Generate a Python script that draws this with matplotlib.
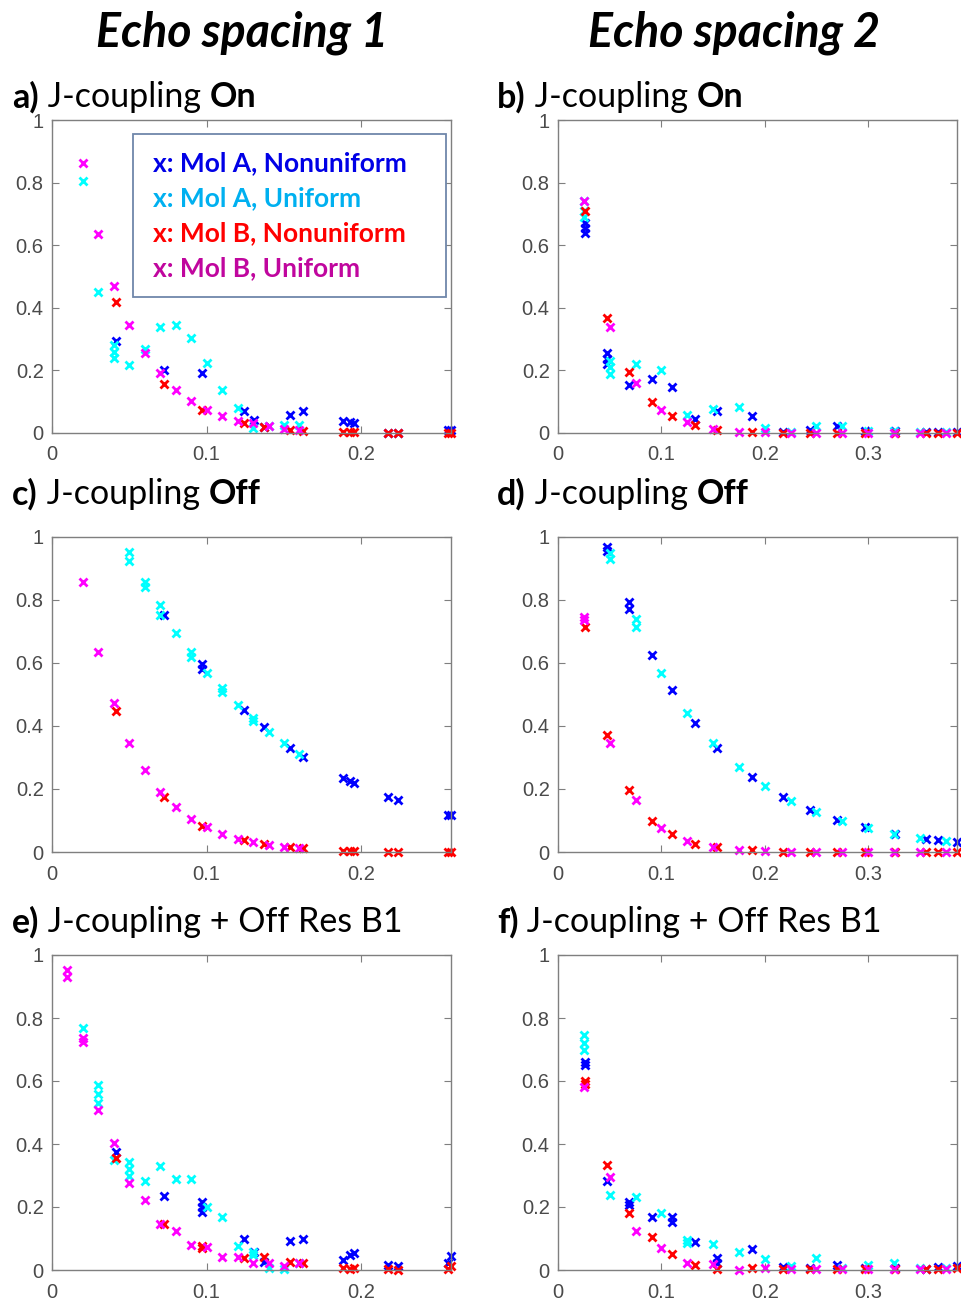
import numpy as np
import matplotlib
matplotlib.use('Agg')
import matplotlib.pyplot as plt
from matplotlib.patches import Rectangle

# x positions (echo times) of the sampling schemes
xn1 = [0.0415, 0.0725, 0.097, 0.124, 0.1305, 0.137, 0.154, 0.162, 0.188, 0.1925, 0.195, 0.217, 0.224, 0.256, 0.258]
xu1 = [0.01, 0.02, 0.03, 0.04, 0.05, 0.06, 0.07, 0.08, 0.09, 0.10, 0.11, 0.12, 0.13, 0.14, 0.15, 0.16]
xn2 = [0.026, 0.047, 0.069, 0.091, 0.110, 0.133, 0.154, 0.188, 0.218, 0.2435, 0.27, 0.297, 0.326, 0.356, 0.368, 0.386]
xu2 = [0.025, 0.05, 0.075, 0.1, 0.125, 0.15, 0.175, 0.2, 0.225, 0.25, 0.275, 0.3, 0.325, 0.35, 0.375]

# a) J-coupling On, echo spacing 1   (tuples = several repeats at one x)
a_blue = [0.293, 0.202, 0.191, 0.069, 0.043, 0.018, 0.059, 0.069, 0.039, 0.034, 0.032, 0.0, 0.0, 0.011, 0.011]
a_cyan = [None, 0.806, 0.452, (0.28, 0.26, 0.24), 0.218, 0.269, 0.338, 0.346, 0.302, 0.223, 0.138, 0.080, 0.016, 0.023, 0.027, 0.027]
a_red = [0.417, 0.156, 0.074, 0.032, None, 0.02, 0.0085, 0.005, 0.002, 0.002, 0.002, 0.0, 0.0, 0.0, 0.0]
a_mag = [None, 0.862, 0.635, 0.470, 0.346, 0.255, 0.191, 0.138, 0.103, 0.074, 0.055, 0.039, 0.032, 0.021, 0.013, 0.0085]

# b) J-coupling On, echo spacing 2
b_blue = [(0.67, 0.655, 0.64), (0.255, 0.235, 0.22), 0.154, 0.172, 0.146, 0.046, 0.071, 0.053, 0.002, 0.0085, 0.021, 0.005, 0.007, 0.002, 0.002, 0.002]
b_cyan = [(0.74, 0.71, 0.69), (0.23, 0.21, 0.19), 0.221, 0.202, 0.058, 0.077, 0.083, 0.016, 0.002, 0.021, 0.023, 0.005, 0.007, 0.002, 0.002]
b_red = [0.71, 0.368, 0.196, 0.098, 0.055, 0.027, 0.011, 0.003, 0.0, 0.0, 0.0, 0.0, 0.0, 0.0, 0.0, 0.0]
b_mag = [0.74, 0.34, 0.159, 0.074, 0.034, 0.014, 0.004, 0.002, 0.0, 0.0, 0.0, 0.0, 0.0, 0.0, 0.0]

# c) J-coupling Off, echo spacing 1
c_blue = [None, 0.752, (0.598, 0.58), 0.451, None, 0.398, 0.329, 0.303, 0.234, 0.226, 0.219, 0.176, 0.166, 0.118, 0.118]
c_cyan = [None, None, None, None, (0.952, 0.925), (0.857, 0.842), (0.784, 0.752), 0.696, (0.636, 0.62), 0.569, (0.52, 0.509), 0.467, (0.425, 0.416), 0.382, 0.347, 0.312]
c_red = [0.449, 0.176, 0.083, 0.037, None, 0.026, 0.016, 0.013, 0.002, 0.002, 0.002, 0.001, 0.001, 0.0, 0.0]
c_mag = [None, 0.857, 0.636, 0.472, 0.347, 0.259, 0.192, 0.143, 0.105, 0.078, 0.058, 0.042, 0.032, 0.023, 0.016, 0.013]

# d) J-coupling Off, echo spacing 2
d_blue = [None, (0.968, 0.955), (0.794, 0.77), 0.625, 0.514, 0.409, 0.329, 0.238, 0.174, 0.134, 0.102, 0.079, 0.058, 0.042, 0.037, 0.032]
d_cyan = [None, (0.95, 0.93), (0.74, 0.715), 0.567, 0.442, 0.345, 0.269, 0.208, 0.163, 0.126, 0.099, 0.076, 0.058, 0.044, 0.036]
d_red = [0.715, 0.372, 0.197, 0.100, 0.057, 0.026, 0.016, 0.005, 0.001, 0.0, 0.0, 0.0, 0.0, 0.0, 0.0, 0.0]
d_mag = [(0.745, 0.735), 0.347, 0.164, 0.076, 0.036, 0.016, 0.006, 0.004, 0.0, 0.0, 0.0, 0.0, 0.0, 0.0, 0.0]

# e) J-coupling + Off Res B1, echo spacing 1
e_blue = [0.376, 0.235, (0.217, 0.20, 0.185), 0.098, 0.058, 0.026, 0.093, 0.10, 0.032, 0.048, 0.053, 0.016, 0.014, 0.023, 0.044]
e_cyan = [None, 0.767, (0.587, 0.56, 0.53), 0.349, (0.344, 0.32, 0.30), 0.284, 0.330, 0.288, 0.288, 0.201, 0.169, 0.076, (0.058, 0.048), 0.005, 0.002, 0.021]
e_red = [0.354, 0.145, (0.076, 0.069), 0.037, None, 0.040, 0.026, 0.023, 0.005, 0.002, 0.005, 0.002, 0.0, 0.002, 0.013]
e_mag = [(0.952, 0.93), (0.735, 0.725), 0.508, 0.402, 0.275, 0.222, 0.146, 0.124, 0.079, 0.072, 0.042, 0.040, 0.023, 0.023, 0.013, 0.021]

# f) J-coupling + Off Res B1, echo spacing 2
f_blue = [(0.661, 0.651), 0.284, (0.217, 0.206), 0.167, (0.169, 0.153), 0.090, (0.037, 0.021), 0.066, 0.011, 0.005, 0.016, 0.005, 0.005, 0.003, 0.011, 0.014]
f_cyan = [(0.746, 0.72, 0.70), 0.238, 0.233, 0.182, (0.095, 0.085), 0.083, 0.058, 0.034, 0.013, 0.037, 0.005, 0.016, 0.021, 0.007, 0.007]
f_red = [(0.601, 0.59), 0.333, 0.18, 0.104, 0.05, 0.016, 0.002, 0.005, 0.002, 0.002, 0.002, 0.002, 0.002, 0.002, 0.002, 0.005]
f_mag = [0.582, 0.294, 0.124, 0.069, 0.023, 0.019, 0.0, 0.005, 0.002, 0.002, 0.002, 0.002, 0.002, 0.002, 0.002]

col_titles = ['Echo spacing 1', 'Echo spacing 2']
panel_tags = ['a)', 'b)', 'c)', 'd)', 'e)', 'f)']
panel_mid = [' J-coupling ', ' J-coupling ', ' J-coupling ', ' J-coupling ', ' J-coupling + Off Res B1', ' J-coupling + Off Res B1']
panel_end = ['On', 'On', 'Off', 'Off', '', '']
legend_labels = ['x: Mol A, Nonuniform', 'x: Mol A, Uniform', 'x: Mol B, Nonuniform', 'x: Mol B, Uniform']
legend_colors = ['#0000e6', '#00b0f0', '#ff0000', '#c0069e']


def flat(xs, ys):
    px, py = [], []
    for x, y in zip(xs, ys):
        if y is None:
            continue
        if isinstance(y, tuple):
            for v in y:
                px.append(x)
                py.append(v)
        else:
            px.append(x)
            py.append(y)
    return px, py


fig = plt.figure(figsize=(9.62, 12.99), dpi=100)

W, H = 962, 1299
lefts = [52, 558]
rows = [(120, 433), (537, 852), (955, 1270)]
xmax = [0.258, 0.386]
panels = [
    (a_blue, a_cyan, a_red, a_mag),
    (b_blue, b_cyan, b_red, b_mag),
    (c_blue, c_cyan, c_red, c_mag),
    (d_blue, d_cyan, d_red, d_mag),
    (e_blue, e_cyan, e_red, e_mag),
    (f_blue, f_cyan, f_red, f_mag),
]
label_y = [97, 494, 922]
grey = '#7f7f7f'

axes = []
for i, (blue, cyan, red, mag) in enumerate(panels):
    r, c = i // 2, i % 2
    top, bot = rows[r]
    ax = fig.add_axes([lefts[c] / W, 1 - bot / H, 399 / W, (bot - top) / H])
    xn = xn1 if c == 0 else xn2
    xu = xu1 if c == 0 else xu2
    for xs, ys, col in [(xn, blue, '#0000ff'), (xu, cyan, '#00ffff'), (xn, red, '#ff0000'), (xu, mag, '#ff00ff')]:
        px, py = flat(xs, ys)
        ax.plot(px, py, 'x', color=col, ms=5.5, mew=2.0, clip_on=False)
    ax.set_xlim(0, xmax[c])
    ax.set_ylim(0, 1)
    ax.set_yticks([0, 0.2, 0.4, 0.6, 0.8, 1])
    ax.set_yticklabels(['0', '0.2', '0.4', '0.6', '0.8', '1'])
    if c == 0:
        ax.set_xticks([0, 0.1, 0.2])
        ax.set_xticklabels(['0', '0.1', '0.2'])
    else:
        ax.set_xticks([0, 0.1, 0.2, 0.3])
        ax.set_xticklabels(['0', '0.1', '0.2', '0.3'])
    ax.tick_params(direction='in', length=5, width=0.8, color=grey, top=True, right=True,
                   labelsize=14.5, labelcolor='#4a4a4a')
    ax.tick_params(axis='x', pad=9)
    ax.tick_params(axis='y', pad=6)
    for lab in ax.get_xticklabels() + ax.get_yticklabels():
        lab.set_fontfamily('Liberation Sans')
    for s in ax.spines.values():
        s.set_color(grey)
        s.set_linewidth(1.0)
    axes.append(ax)

# column headings
fig.text(242 / W, 1 - 33 / H, col_titles[0], ha='center', va='center', fontsize=33.5,
         fontweight='bold', fontstyle='italic', family='Lato')
fig.text(734 / W, 1 - 33 / H, col_titles[1], ha='center', va='center', fontsize=33.5,
         fontweight='bold', fontstyle='italic', family='Lato')

# panel labels with mixed weights
renderer = fig.canvas.get_renderer()
for i in range(6):
    r, c = i // 2, i % 2
    x = 12 if c == 0 else 497
    y = 1 - label_y[r] / H
    for txt, wt in [(panel_tags[i], 'bold'), (panel_mid[i], 'normal'), (panel_end[i], 'bold')]:
        if not txt:
            continue
        t = fig.text(x / W, y, txt, ha='left', va='center', fontsize=24.5, fontweight=wt, family='Lato')
        bb = t.get_window_extent(renderer)
        x = bb.x1

# legend box in panel a
box = Rectangle((133 / W, 1 - 297 / H), (446 - 133) / W, (297 - 134) / H, transform=fig.transFigure,
                facecolor='white', edgecolor='#6f87aa', linewidth=1.3, zorder=5)
fig.patches.append(box)
for k, (lab, col) in enumerate(zip(legend_labels, legend_colors)):
    fig.text(153 / W, 1 - (163 + 35 * k) / H, lab, color=col, ha='left', va='center', fontsize=19,
             fontweight='bold', family='Lato', zorder=6)

fig.savefig('out.png', dpi=100)
